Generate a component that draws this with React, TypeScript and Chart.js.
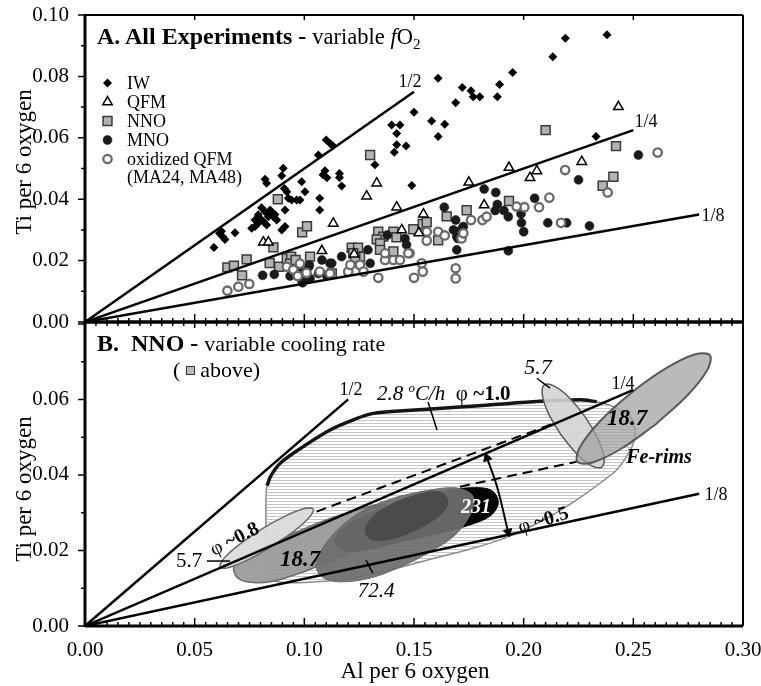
import React, { useEffect, useRef } from 'react';
import { Chart, registerables } from 'chart.js';
Chart.register(...registerables);

type Pt = [number, number];
const SERIF = "'Liberation Serif', 'Times New Roman', serif";

// ---------- axes ----------
const X_MAX = 0.3, X_STEP = 0.05, X_MINOR = 0.005;
const YA_MAX = 0.1, YB_MAX = 0.0805, Y_STEP = 0.02, Y_MINOR = 0.01;

// ---------- Panel A: all experiments (Al, Ti per 6 oxygen) ----------
const seriesNames = ['IW', 'QFM', 'NNO', 'MNO', 'oxidized QFM'];
const iwPoints: Pt[] = [
  [0.0588, 0.0243], [0.0613, 0.0289], [0.0628, 0.0278], [0.0638, 0.0269], [0.0684, 0.0291], [0.0622, 0.0296],
  [0.0760, 0.0305], [0.0775, 0.0332], [0.0790, 0.0349], [0.0798, 0.0338], [0.0813, 0.0327], [0.0821, 0.0359],
  [0.0836, 0.0343], [0.0844, 0.0365], [0.0859, 0.0343], [0.0874, 0.0332], [0.0775, 0.0311], [0.0828, 0.0316],
  [0.0897, 0.0300], [0.0912, 0.0311], [0.0805, 0.0372], [0.0852, 0.0356], [0.0866, 0.0350], [0.0790, 0.0322],
  [0.0821, 0.0465], [0.0828, 0.0452], [0.0897, 0.0476], [0.0904, 0.0501], [0.0920, 0.0424], [0.0927, 0.0403],
  [0.0942, 0.0397], [0.0965, 0.0397], [0.0980, 0.0397], [0.0912, 0.0365], [0.0988, 0.0457], [0.1003, 0.0424],
  [0.0909, 0.0435], [0.1064, 0.0544], [0.1100, 0.0593], [0.1120, 0.0580], [0.1130, 0.0574], [0.1094, 0.0493],
  [0.1085, 0.0480], [0.1103, 0.0470], [0.1160, 0.0484], [0.1160, 0.0471], [0.1170, 0.0443], [0.1070, 0.0403],
  [0.1070, 0.0365], [0.1322, 0.0512], [0.1398, 0.0642], [0.1436, 0.0642], [0.1421, 0.0614], [0.1421, 0.0577],
  [0.1464, 0.0573], [0.1410, 0.0553], [0.1500, 0.0683], [0.1580, 0.0655], [0.1640, 0.0644], [0.1610, 0.0604],
  [0.1610, 0.0794], [0.1490, 0.0445], [0.1690, 0.0714], [0.1720, 0.0764], [0.1760, 0.0753], [0.1770, 0.0734],
  [0.1800, 0.0734], [0.1880, 0.0734], [0.1890, 0.0774], [0.1950, 0.0813], [0.2133, 0.0864], [0.2190, 0.0924],
  [0.2380, 0.0936], [0.2330, 0.0604],
];
const qfmPoints: Pt[] = [
  [0.0813, 0.0260], [0.0836, 0.0260], [0.1132, 0.0321], [0.1284, 0.0410], [0.1330, 0.0452], [0.1421, 0.0374],
  [0.1543, 0.0351], [0.1444, 0.0300], [0.1522, 0.0290], [0.1080, 0.0232], [0.1227, 0.0221], [0.1750, 0.0455],
  [0.1933, 0.0503], [0.2060, 0.0492], [0.2029, 0.0470], [0.2265, 0.0522], [0.1820, 0.0381], [0.2432, 0.0701],
];
const nnoPoints: Pt[] = [
  [0.0649, 0.0178], [0.0679, 0.0183], [0.0737, 0.0204], [0.0716, 0.0152], [0.0842, 0.0192], [0.0859, 0.0243],
  [0.0885, 0.0180], [0.0879, 0.0400], [0.0990, 0.0292], [0.1012, 0.0312], [0.0920, 0.0207], [0.0940, 0.0213],
  [0.0935, 0.0190], [0.0960, 0.0202], [0.1300, 0.0544], [0.1337, 0.0294], [0.1360, 0.0278], [0.1330, 0.0269],
  [0.1345, 0.0256], [0.1406, 0.0294], [0.1420, 0.0276], [0.1520, 0.0302], [0.1540, 0.0319], [0.1558, 0.0325],
  [0.1497, 0.0302], [0.1649, 0.0344], [0.1740, 0.0364], [0.1610, 0.0266], [0.1216, 0.0242], [0.1245, 0.0242],
  [0.1223, 0.0224], [0.1254, 0.0213], [0.1232, 0.0209], [0.1345, 0.0235], [0.1406, 0.0230], [0.1026, 0.0213],
  [0.1125, 0.0158], [0.2100, 0.0625], [0.1933, 0.0394], [0.2360, 0.0444], [0.2421, 0.0573], [0.2409, 0.0473],
];
const mnoPoints: Pt[] = [
  [0.0810, 0.0152], [0.0863, 0.0155], [0.0935, 0.0150], [0.0992, 0.0128], [0.1020, 0.0180], [0.0988, 0.0164],
  [0.0988, 0.0137], [0.1023, 0.0186], [0.1026, 0.0142], [0.1064, 0.0158], [0.1080, 0.0202], [0.1100, 0.0153],
  [0.1125, 0.0191], [0.1170, 0.0213], [0.1250, 0.0186], [0.1290, 0.0235], [0.1300, 0.0191], [0.1378, 0.0283],
  [0.1459, 0.0272], [0.1466, 0.0251], [0.1638, 0.0374], [0.1690, 0.0332], [0.1695, 0.0235], [0.1717, 0.0300],
  [0.1680, 0.0300], [0.1725, 0.0311], [0.1695, 0.0278], [0.1117, 0.0191], [0.1820, 0.0433], [0.1873, 0.0422],
  [0.1880, 0.0383], [0.1760, 0.0332], [0.1870, 0.0363], [0.1910, 0.0363], [0.1930, 0.0343], [0.1988, 0.0352],
  [0.1990, 0.0323], [0.2000, 0.0294], [0.2050, 0.0403], [0.2110, 0.0323], [0.2196, 0.0323], [0.2300, 0.0313],
  [0.2250, 0.0463], [0.1930, 0.0232], [0.1720, 0.0305], [0.1700, 0.0272], [0.1816, 0.0334], [0.2523, 0.0544],
];
const oxQfmPoints: Pt[] = [
  [0.0649, 0.0102], [0.0699, 0.0115], [0.0749, 0.0124], [0.0920, 0.0180], [0.0950, 0.0170], [0.0980, 0.0190],
  [0.1010, 0.0160], [0.0970, 0.0150], [0.1070, 0.0164], [0.1200, 0.0164], [0.1254, 0.0186], [0.1270, 0.0164],
  [0.1337, 0.0144], [0.1368, 0.0202], [0.1406, 0.0202], [0.1436, 0.0202], [0.1480, 0.0224], [0.1500, 0.0144],
  [0.1535, 0.0191], [0.1540, 0.0164], [0.1558, 0.0294], [0.1558, 0.0265], [0.1610, 0.0294], [0.1640, 0.0282],
  [0.1690, 0.0175], [0.1690, 0.0142], [0.1760, 0.0332], [0.1717, 0.0272], [0.1368, 0.0224], [0.1474, 0.0224],
  [0.1210, 0.0186], [0.1117, 0.0158], [0.1812, 0.0332], [0.1831, 0.0343], [0.2003, 0.0374], [0.1968, 0.0376],
  [0.2070, 0.0374], [0.2117, 0.0405], [0.2189, 0.0495], [0.1725, 0.0289], [0.2611, 0.0552], [0.2383, 0.0422],
  [0.2170, 0.0323],
];
const ratioHalfA: Pt[] = [[0, 0], [0.15, 0.075]];
const ratioQuarterA: Pt[] = [[0, 0], [0.25, 0.0625]];
const ratioEighthA: Pt[] = [[0, 0], [0.28, 0.035]];

// ---------- Panel B: NNO, variable cooling rate ----------
const ratioHalfB: Pt[] = [[0, 0], [0.12, 0.06]];
const ratioQuarterB: Pt[] = [[0, 0], [0.25, 0.0625]];
const ratioEighthB: Pt[] = [[0, 0], [0.28, 0.035]];
const envelope28: Pt[] = [
  [0.0825, 0.0250], [0.0825, 0.0340], [0.0830, 0.0372], [0.0848, 0.0398], [0.0890, 0.0431], [0.0995, 0.0475],
  [0.1117, 0.0519], [0.1223, 0.0546], [0.1315, 0.0563], [0.1450, 0.0570], [0.1740, 0.0581], [0.2044, 0.0594],
  [0.2257, 0.0599], [0.2333, 0.0594], [0.2409, 0.0581], [0.2485, 0.0555], [0.2508, 0.0519], [0.2500, 0.0484],
  [0.2470, 0.0449], [0.2424, 0.0413], [0.2348, 0.0378], [0.2242, 0.0334], [0.2120, 0.0290], [0.1999, 0.0254],
  [0.1892, 0.0228], [0.1740, 0.0201], [0.1588, 0.0179], [0.1400, 0.0150], [0.1200, 0.0125], [0.1000, 0.0115],
  [0.0880, 0.0117], [0.0838, 0.0130], [0.0825, 0.0160], [0.0825, 0.0250],
];
const envelope28Top: Pt[] = [
  [0.0830, 0.0372], [0.0848, 0.0398], [0.0890, 0.0431], [0.0995, 0.0475], [0.1117, 0.0519], [0.1223, 0.0546],
  [0.1315, 0.0563], [0.1450, 0.0570], [0.1740, 0.0581], [0.2044, 0.0594], [0.2257, 0.0599], [0.2333, 0.0594],
];
const blob57Left: Pt[] = [
  [0.0852, 0.0211], [0.0742, 0.0175], [0.0656, 0.0155], [0.0616, 0.0156], [0.0632, 0.0178], [0.0700, 0.0214],
  [0.0803, 0.0256], [0.0913, 0.0291], [0.1000, 0.0311], [0.1040, 0.0310], [0.1023, 0.0288], [0.0955, 0.0252],
  [0.0852, 0.0211],
];
const blob187Left: Pt[] = [
  [0.0935, 0.0241], [0.0807, 0.0207], [0.0720, 0.0180], [0.0679, 0.0159], [0.0689, 0.0132], [0.0739, 0.0117],
  [0.0844, 0.0117], [0.0980, 0.0140], [0.1117, 0.0172], [0.1254, 0.0209], [0.1354, 0.0246], [0.1395, 0.0270],
  [0.1400, 0.0294], [0.1382, 0.0315], [0.1336, 0.0321], [0.1208, 0.0302], [0.1072, 0.0275], [0.0935, 0.0241],
];
const blob724: Pt[] = [
  [0.1436, 0.0344], [0.1300, 0.0315], [0.1186, 0.0273], [0.1094, 0.0215], [0.1053, 0.0162], [0.1081, 0.0130],
  [0.1163, 0.0117], [0.1300, 0.0127], [0.1436, 0.0156], [0.1573, 0.0196], [0.1687, 0.0241], [0.1756, 0.0294],
  [0.1774, 0.0334], [0.1756, 0.0352], [0.1687, 0.0366], [0.1573, 0.0360], [0.1436, 0.0344],
];
const blob724Core: Pt[] = [
  [0.1414, 0.0328], [0.1322, 0.0294], [0.1277, 0.0254], [0.1309, 0.0228], [0.1414, 0.0233], [0.1528, 0.0260],
  [0.1619, 0.0294], [0.1655, 0.0328], [0.1619, 0.0355], [0.1528, 0.0350], [0.1414, 0.0328],
];
const blob231: Pt[] = [
  [0.1436, 0.0326], [0.1300, 0.0297], [0.1186, 0.0262], [0.1140, 0.0228], [0.1172, 0.0201], [0.1277, 0.0201],
  [0.1436, 0.0223], [0.1619, 0.0246], [0.1756, 0.0268], [0.1847, 0.0291], [0.1883, 0.0321], [0.1874, 0.0347],
  [0.1838, 0.0363], [0.1756, 0.0366], [0.1664, 0.0360], [0.1550, 0.0344], [0.1436, 0.0326],
];
const blob57Right: Pt[] = [
  [0.2169, 0.0507], [0.2111, 0.0565], [0.2085, 0.0613], [0.2095, 0.0639], [0.2140, 0.0635], [0.2209, 0.0604],
  [0.2281, 0.0553], [0.2339, 0.0495], [0.2366, 0.0447], [0.2356, 0.0421], [0.2310, 0.0424], [0.2242, 0.0456],
  [0.2169, 0.0507],
];
const blob187Right: Pt[] = [
  [0.2604, 0.0535], [0.2446, 0.0470], [0.2314, 0.0433], [0.2245, 0.0435], [0.2257, 0.0474], [0.2346, 0.0541],
  [0.2490, 0.0617], [0.2648, 0.0682], [0.2779, 0.0719], [0.2849, 0.0717], [0.2837, 0.0678], [0.2747, 0.0611],
  [0.2604, 0.0535],
];
const dashedUpper: Pt[] = [[0.1056, 0.0303], [0.2150, 0.0539]];
const dashedLower: Pt[] = [[0.1710, 0.0369], [0.2242, 0.0435]];
const phiArrow: Pt[] = [[0.1833, 0.0445], [0.1879, 0.0368], [0.1929, 0.0249]];
const leader28: Pt[] = [[0.1564, 0.0593], [0.1605, 0.0519]];
const leader724: Pt[] = [[0.1281, 0.0175], [0.1312, 0.0140]];
const leader57Left: Pt[] = [[0.0556, 0.0172], [0.0661, 0.0172]];
const leader57Right: Pt[] = [[0.2060, 0.0656], [0.2120, 0.0630]];

// ---------- helpers ----------
const toXY = (a: Pt[]) => a.map(([x, y]) => ({ x, y }));
const tickLabel = (v: any) => Number(v).toFixed(2);

const markerStyles = [
  { style: 'rectRot', r: 4.5, bg: '#000', border: '#000', bw: 0 },
  { style: 'triangle', r: 5.5, bg: '#fff', border: '#000', bw: 1.5 },
  { style: 'rect', r: 6.3, bg: '#b3b3b3', border: '#3a3a3a', bw: 1.5 },
  { style: 'circle', r: 4.5, bg: '#1a1a1a', border: '#1a1a1a', bw: 0.5 },
  { style: 'circle', r: 4.2, bg: '#fff', border: '#6a6a6a', bw: 2.3 },
];

function drawMarker(ctx: CanvasRenderingContext2D, m: any, x: number, y: number) {
  ctx.beginPath();
  if (m.style === 'rectRot') {
    ctx.moveTo(x - m.r, y); ctx.lineTo(x, y - m.r); ctx.lineTo(x + m.r, y); ctx.lineTo(x, y + m.r); ctx.closePath();
  } else if (m.style === 'triangle') {
    for (let k = 0; k < 3; k++) {
      const a = (k * 2 * Math.PI) / 3;
      const px = x + Math.sin(a) * m.r, py = y - Math.cos(a) * m.r;
      if (k === 0) ctx.moveTo(px, py); else ctx.lineTo(px, py);
    }
    ctx.closePath();
  } else if (m.style === 'rect') {
    const s = m.r * Math.SQRT1_2; ctx.rect(x - s, y - s, 2 * s, 2 * s);
  } else {
    ctx.arc(x, y, m.r, 0, Math.PI * 2);
  }
  ctx.fillStyle = m.bg; ctx.fill();
  if (m.bw > 0) { ctx.lineWidth = m.bw; ctx.strokeStyle = m.border; ctx.stroke(); }
}

const framePlugin = {
  id: 'frame',
  afterDatasetsDraw(chart: any, _a: any, opts: any) {
    const { ctx, chartArea } = chart;
    const { left, right, top, bottom } = chartArea;
    const xs = chart.scales.x, ys = chart.scales.y;
    ctx.save();
    ctx.strokeStyle = '#000';
    ctx.lineWidth = 1.5;
    ctx.beginPath();
    const nx = Math.round(X_MAX / X_MINOR);
    const perMajor = Math.round(X_STEP / X_MINOR);
    for (let i = 0; i <= nx; i++) {
      const px = xs.getPixelForValue(i * X_MINOR);
      const major = i % perMajor === 0;
      if (opts.bottomTicks) { ctx.moveTo(px, bottom); ctx.lineTo(px, bottom - (major ? 8 : 4)); }
      if (opts.topTicks === 'all' || (opts.topTicks === 'major' && major)) {
        ctx.moveTo(px, top); ctx.lineTo(px, top + (major ? opts.topMajor : opts.topMinor));
      }
    }
    const ny = Math.floor(ys.max / Y_MINOR + 1e-6);
    const perYMajor = Math.round(Y_STEP / Y_MINOR);
    for (let j = 0; j <= ny; j++) {
      const py = ys.getPixelForValue(j * Y_MINOR);
      ctx.moveTo(left, py); ctx.lineTo(left - (j % perYMajor === 0 ? 7 : 4), py);
    }
    ctx.stroke();
    const seg = (x1: number, y1: number, x2: number, y2: number, w: number) => {
      ctx.lineWidth = w; ctx.beginPath(); ctx.moveTo(x1, y1); ctx.lineTo(x2, y2); ctx.stroke();
    };
    seg(left, top - 1, left, bottom + 1, 3);
    seg(left, bottom, right, bottom, 3);
    seg(left, top, right, top, opts.topWidth);
    seg(right, top, right, bottom, 2);
    ctx.restore();
  },
};

const legendPlugin = {
  id: 'legendA',
  afterDraw(chart: any) {
    const ctx = chart.ctx as CanvasRenderingContext2D;
    const rowsY = [83, 102, 121, 140, 159];
    ctx.save();
    seriesNames.forEach((name, k) => {
      drawMarker(ctx, markerStyles[k], 107.5, rowsY[k]);
      ctx.fillStyle = '#000';
      ctx.font = `18px ${SERIF}`;
      ctx.textBaseline = 'middle';
      ctx.fillText(name, 127, rowsY[k] + 1);
    });
    ctx.fillText('(MA24, MA48)', 127, 178);
    ctx.restore();
  },
};

const lineSet = (data: Pt[], extra: any = {}) => ({
  data: toXY(data), showLine: true, pointRadius: 0, borderColor: '#000', borderWidth: 2.5, fill: false, tension: 0, ...extra,
});
const blobSet = (data: Pt[], bg: any, border: string, bw: number, order: number) => ({
  data: toXY(data), showLine: true, pointRadius: 0, fill: 'shape', backgroundColor: bg, borderColor: border,
  borderWidth: bw, tension: 0.35, order,
});
const ptSet = (label: string, data: Pt[], m: any, order: number) => ({
  label, data: toXY(data), showLine: false, pointStyle: m.style, pointRadius: m.r, pointBackgroundColor: m.bg,
  pointBorderColor: m.border, pointBorderWidth: m.bw, order,
});

const yAxis = (max: number, hideAbove: number) => ({
  type: 'linear', min: 0, max,
  grid: { display: false }, border: { display: false },
  afterFit: (s: any) => { s.width = 85; s.paddingTop = 0; s.paddingBottom = 0; },
  ticks: {
    stepSize: Y_STEP, padding: 8, color: '#000', autoSkip: false, includeBounds: false,
    font: { family: SERIF, size: 21 },
    callback: (v: any) => (Number(v) > hideAbove ? '' : tickLabel(v)),
  },
});

function configA(): any {
  return {
    type: 'scatter',
    data: {
      datasets: [
        lineSet(ratioHalfA, { order: 0 }),
        lineSet(ratioQuarterA, { order: 0 }),
        lineSet(ratioEighthA, { order: 0 }),
        ptSet(seriesNames[0], iwPoints, markerStyles[0], 1),
        ptSet(seriesNames[1], qfmPoints, markerStyles[1], 2),
        ptSet(seriesNames[4], oxQfmPoints, markerStyles[4], 3),
        ptSet(seriesNames[3], mnoPoints, markerStyles[3], 4),
        ptSet(seriesNames[2], nnoPoints, markerStyles[2], 5),
      ],
    },
    options: {
      animation: false, responsive: false, events: [],
      layout: { padding: { left: 0, right: 18, top: 15, bottom: 23 } },
      plugins: {
        legend: { display: false }, tooltip: { enabled: false },
        frame: { bottomTicks: true, topTicks: 'major', topMajor: 5, topMinor: 0, topWidth: 2 },
      },
      scales: {
        x: {
          type: 'linear', min: 0, max: X_MAX,
          grid: { display: false }, border: { display: false }, ticks: { display: false },
          afterFit: (s: any) => { s.height = 0; s.paddingLeft = 0; s.paddingRight = 0; },
        },
        y: yAxis(YA_MAX, 1),
      },
    },
    plugins: [framePlugin, legendPlugin],
  };
}

function configB(canvas: HTMLCanvasElement): any {
  const pc = document.createElement('canvas');
  pc.width = 8; pc.height = 3;
  const pctx = pc.getContext('2d')!;
  pctx.fillStyle = '#ffffff'; pctx.fillRect(0, 0, 8, 3);
  pctx.fillStyle = '#c6c6c6'; pctx.fillRect(0, 0, 8, 1);
  const hatch = canvas.getContext('2d')!.createPattern(pc, 'repeat');
  return {
    type: 'scatter',
    data: {
      datasets: [
        lineSet(leader28, { borderWidth: 1.5, order: 1 }),
        lineSet(leader724, { borderWidth: 1.5, order: 1 }),
        lineSet(leader57Left, { borderWidth: 1.5, order: 1 }),
        lineSet(leader57Right, { borderWidth: 1.5, order: 1 }),
        lineSet(phiArrow, {
          borderWidth: 2, tension: 0.4, order: 2, pointStyle: 'triangle', pointRadius: [5, 0, 5],
          pointRotation: [-19, 0, 166], pointBackgroundColor: '#000', pointBorderColor: '#000', pointBorderWidth: 1,
        }),
        lineSet(ratioHalfB, { order: 3 }),
        lineSet(ratioQuarterB, { order: 3 }),
        lineSet(ratioEighthB, { order: 3 }),
        blobSet(blob187Right, 'rgba(160,160,160,0.72)', '#5a5a5a', 2, 21),
        blobSet(blob57Right, 'rgba(212,212,212,0.9)', '#5a5a5a', 1.5, 22),
        blobSet(blob57Left, 'rgba(218,218,218,0.92)', '#6a6a6a', 1.5, 23),
        blobSet(blob724Core, 'rgba(72,72,72,0.9)', 'rgba(72,72,72,0.9)', 1, 24),
        blobSet(blob724, 'rgba(110,110,110,0.93)', '#666', 1, 25),
        blobSet(blob231, '#050505', '#000', 1, 26),
        blobSet(blob187Left, 'rgba(155,155,155,0.95)', '#6a6a6a', 1.5, 27),
        lineSet(dashedUpper, { borderWidth: 2, borderDash: [10, 6], order: 28 }),
        lineSet(dashedLower, { borderWidth: 2, borderDash: [10, 6], order: 28 }),
        lineSet(envelope28Top, { borderWidth: 3.5, borderColor: '#151515', tension: 0.35, order: 29 }),
        blobSet(envelope28, hatch, '#8c8c8c', 1.5, 30),
      ],
    },
    options: {
      animation: false, responsive: false, events: [],
      layout: { padding: { left: 0, right: 18, top: 22, bottom: 0 } },
      plugins: {
        legend: { display: false }, tooltip: { enabled: false },
        frame: { bottomTicks: true, topTicks: 'all', topMajor: 6, topMinor: 4, topWidth: 3 },
      },
      scales: {
        x: {
          type: 'linear', min: 0, max: X_MAX,
          grid: { display: false }, border: { display: false },
          afterFit: (s: any) => { s.height = 60; s.paddingLeft = 0; s.paddingRight = 0; },
          ticks: {
            stepSize: X_STEP, padding: 4, color: '#000', autoSkip: false, maxRotation: 0,
            font: { family: SERIF, size: 21 }, callback: tickLabel,
          },
        },
        y: yAxis(YB_MAX, 0.07),
      },
    },
    plugins: [framePlugin],
  };
}

const Txt = ({ x, y, size = 20, rot = 0, left = false, children, style = {} }: any) => (
  <div
    style={{
      position: 'absolute', left: x, top: y, fontFamily: SERIF, fontSize: size, lineHeight: 1,
      whiteSpace: 'nowrap', color: '#000',
      transform: `translate(${left ? '0' : '-50%'}, -50%) rotate(${rot}deg)`,
      transformOrigin: left ? '0 50%' : '50% 50%', ...style,
    }}
  >
    {children}
  </div>
);

export default function App() {
  const refA = useRef<HTMLCanvasElement>(null);
  const refB = useRef<HTMLCanvasElement>(null);
  useEffect(() => {
    const a = new Chart(refA.current!, configA());
    const b = new Chart(refB.current!, configB(refB.current!));
    return () => { a.destroy(); b.destroy(); };
  }, []);
  return (
    <div style={{ position: 'fixed', left: 0, top: 0, width: 761, height: 686, background: '#fff', overflow: 'hidden' }}>
      <canvas ref={refA} width={761} height={345} style={{ position: 'absolute', left: 0, top: 0, display: 'block' }} />
      <canvas ref={refB} width={761} height={386} style={{ position: 'absolute', left: 0, top: 300, display: 'block' }} />

      {/* Panel A text */}
      <Txt x={97} y={38} left size={24}>
        <b>A. All Experiments - </b>
        <span style={{ fontSize: 22.5 }}>variable <i>f</i>O<sub style={{ fontSize: 15, verticalAlign: -5 }}>2</sub></span>
      </Txt>
      <Txt x={410} y={81} size={18}>1/2</Txt>
      <Txt x={646} y={121} size={18}>1/4</Txt>
      <Txt x={713} y={215} size={18}>1/8</Txt>

      {/* Panel B text */}
      <Txt x={97} y={343} left size={24}>
        <b>B.&nbsp; NNO - </b><span style={{ fontSize: 22 }}>variable cooling rate</span>
      </Txt>
      <Txt x={173} y={370} left size={22}>
        (&nbsp;<span style={{ display: 'inline-block', width: 7, height: 7, border: '1.5px solid #333', background: '#bbb', verticalAlign: 2 }} /> above)
      </Txt>
      <Txt x={351} y={389} size={18}>1/2</Txt>
      <Txt x={623} y={383} size={18}>1/4</Txt>
      <Txt x={716} y={494} size={18}>1/8</Txt>
      <Txt x={377} y={392} left size={21}>
        <i>2.8 <sup style={{ fontSize: 13 }}>o</sup>C/h</i>&nbsp; φ <b>~1.0</b>
      </Txt>
      <Txt x={538} y={367} size={22}><i>5.7</i></Txt>
      <Txt x={627} y={417} size={23}><b><i>18.7</i></b></Txt>
      <Txt x={659} y={456} size={20}><b><i>Fe-rims</i></b></Txt>
      <Txt x={476} y={506} size={20} style={{ color: '#fff' }}><b><i>231</i></b></Txt>
      <Txt x={543} y={519} size={20} rot={-17}>φ <b>~0.5</b></Txt>
      <Txt x={234} y={538} size={20} rot={-27}>φ <b>~0.8</b></Txt>
      <Txt x={189} y={560} size={21}>5.7</Txt>
      <Txt x={300} y={558} size={23}><b><i>18.7</i></b></Txt>
      <Txt x={376} y={590} size={21}><i>72.4</i></Txt>

      {/* axis titles */}
      <Txt x={23} y={162} size={23} rot={-90}>Ti per 6 oxygen</Txt>
      <Txt x={23} y={489} size={23} rot={-90}>Ti per 6 oxygen</Txt>
      <Txt x={415} y={670} size={23}>Al per 6 oxygen</Txt>
    </div>
  );
}
